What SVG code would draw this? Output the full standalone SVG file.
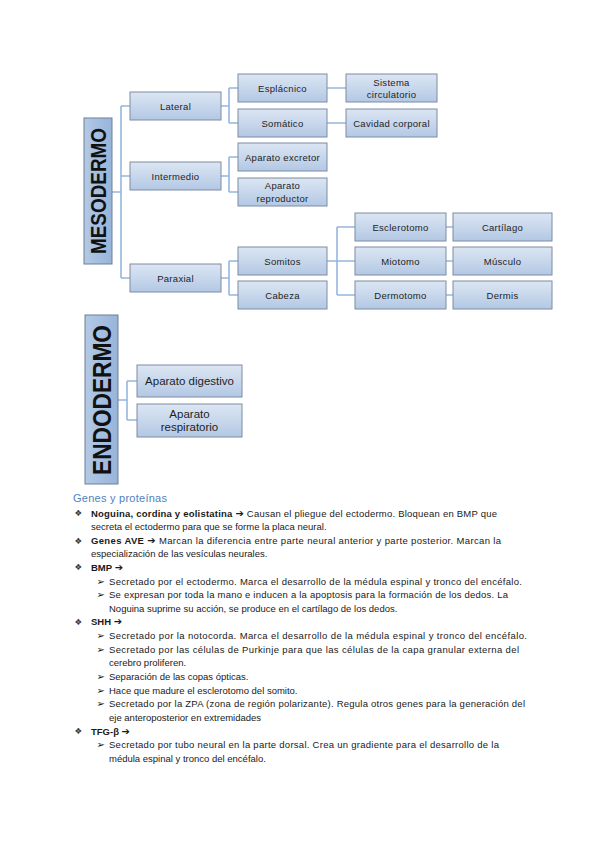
<svg xmlns="http://www.w3.org/2000/svg" width="599" height="848" viewBox="0 0 599 848">
<defs>
<linearGradient id="gBox" x1="0" y1="0" x2="0" y2="1">
<stop offset="0" stop-color="#dce6f3"/>
<stop offset="1" stop-color="#b3c8e4"/>
</linearGradient>
<linearGradient id="gHead" x1="0" y1="0" x2="1" y2="0">
<stop offset="0" stop-color="#b3c9e6"/>
<stop offset="1" stop-color="#97b4da"/>
</linearGradient>
<style>
.box{fill:url(#gBox);stroke:#7d8ca2;stroke-width:1}
.head{fill:url(#gHead);stroke:#6f7f95;stroke-width:1}
.bt{font-family:"Liberation Sans",Arial,sans-serif;font-size:9.5px;fill:#1e1e1e;text-anchor:middle;letter-spacing:0.3px}
.bt2{font-family:"Liberation Sans",Arial,sans-serif;font-size:11.5px;fill:#1e1e1e;text-anchor:middle}
.ht{font-family:"Liberation Sans",Arial,sans-serif;font-weight:bold;fill:#111;text-anchor:middle}
.con{fill:none;stroke:#95b6de;stroke-width:1.6}
.tx{font-family:"Liberation Sans",Arial,sans-serif;font-size:9.5px;fill:#1a1a1a}
.b{font-weight:bold}
.ar{font-family:"DejaVu Sans",sans-serif;font-weight:bold;font-size:10px}
.sym{font-family:"DejaVu Sans",sans-serif;font-size:8.5px;fill:#333}
.sym2{font-family:"DejaVu Sans",sans-serif;font-size:10px;fill:#111}
.title{font-family:"Liberation Sans",Arial,sans-serif;font-size:11px;fill:#4f81bd}
</style>
</defs>

<g id="connectors">
<path class="con" d="M112,192 H121 M121,106 V278 M121,106 H130 M121,176 H130 M121,278 H130"/>
<path class="con" d="M221,106 H229 M229,88 V123 M229,88 H238 M229,123 H238"/>
<path class="con" d="M221,176 H229 M229,157 V192 M229,157 H238 M229,192 H238"/>
<path class="con" d="M221,278 H229 M229,261 V295 M229,261 H238 M229,295 H238"/>
<path class="con" d="M327,88 H346 M327,123 H346"/>
<path class="con" d="M327,261 H337 M337,227 V295 M337,227 H355 M337,261 H355 M337,295 H355"/>
<path class="con" d="M446,227 H453 M446,261 H453 M446,295 H453"/>
<path class="con" d="M118,400 H127 M127,381 V420 M127,381 H137 M127,420 H137"/>
</g>

<g id="mesodermo"><rect class="head" x="84" y="118" width="28" height="146"/><text class="ht" font-size="22" transform="translate(98,191) rotate(-90)" x="0" y="8" textLength="126" lengthAdjust="spacingAndGlyphs">MESODERMO</text></g>
<g id="lateral"><rect class="box" x="130" y="92" width="91" height="28"/><text class="bt" x="175.5" y="109.5">Lateral</text></g>
<g id="intermedio"><rect class="box" x="130" y="162" width="91" height="28"/><text class="bt" x="175.5" y="179.5">Intermedio</text></g>
<g id="paraxial"><rect class="box" x="130" y="264" width="91" height="28"/><text class="bt" x="175.5" y="281.5">Paraxial</text></g>
<g id="esplacnico"><rect class="box" x="238" y="74" width="89" height="28"/><text class="bt" x="282.5" y="91.5">Esplácnico</text></g>
<g id="somatico"><rect class="box" x="238" y="109" width="89" height="28"/><text class="bt" x="282.5" y="126.5">Somático</text></g>
<g id="excretor"><rect class="box" x="238" y="143" width="89" height="28"/><text class="bt" x="282.5" y="160.5">Aparato excretor</text></g>
<g id="reproductor"><rect class="box" x="238" y="178" width="89" height="28"/><text class="bt" x="282.5" y="189">Aparato</text><text class="bt" x="282.5" y="201.5">reproductor</text></g>
<g id="somitos"><rect class="box" x="238" y="247" width="89" height="28"/><text class="bt" x="282.5" y="264.5">Somitos</text></g>
<g id="cabeza"><rect class="box" x="238" y="281" width="89" height="28"/><text class="bt" x="282.5" y="298.5">Cabeza</text></g>
<g id="circulatorio"><rect class="box" x="346" y="74" width="91" height="28"/><text class="bt" x="391.5" y="85.5">Sistema</text><text class="bt" x="391.5" y="98">circulatorio</text></g>
<g id="cavidad"><rect class="box" x="346" y="109" width="91" height="28"/><text class="bt" x="391.5" y="126.5">Cavidad corporal</text></g>
<g id="esclerotomo"><rect class="box" x="355" y="213" width="91" height="28"/><text class="bt" x="400.5" y="230.5">Esclerotomo</text></g>
<g id="miotomo"><rect class="box" x="355" y="247" width="91" height="28"/><text class="bt" x="400.5" y="264.5">Miotomo</text></g>
<g id="dermotomo"><rect class="box" x="355" y="281" width="91" height="28"/><text class="bt" x="400.5" y="298.5">Dermotomo</text></g>
<g id="cartilago"><rect class="box" x="453" y="213" width="99" height="28"/><text class="bt" x="502.5" y="230.5">Cartílago</text></g>
<g id="musculo"><rect class="box" x="453" y="247" width="99" height="28"/><text class="bt" x="502.5" y="264.5">Músculo</text></g>
<g id="dermis"><rect class="box" x="453" y="281" width="99" height="28"/><text class="bt" x="502.5" y="298.5">Dermis</text></g>

<g id="endodermo"><rect class="head" x="85" y="315" width="33" height="169"/><text class="ht" font-size="25" transform="translate(101.5,400) rotate(-90)" x="0" y="9" textLength="150" lengthAdjust="spacingAndGlyphs">ENDODERMO</text></g>
<g id="digestivo"><rect class="box" x="137" y="365" width="105" height="32"/><text class="bt2" x="189.5" y="385">Aparato digestivo</text></g>
<g id="respiratorio"><rect class="box" x="137" y="404" width="105" height="33"/><text class="bt2" x="189.5" y="418">Aparato</text><text class="bt2" x="189.5" y="431">respiratorio</text></g>

<g id="text">
<text class="title" x="73" y="502" textLength="94" lengthAdjust="spacing">Genes y proteínas</text>
<text class="sym" x="74.5" y="516">❖</text>
<text class="tx" x="91" y="516.5" textLength="406" lengthAdjust="spacing"><tspan class="b">Noguina, cordina y eolistatina</tspan> <tspan class="ar">➔</tspan> Causan el pliegue del ectodermo. Bloquean en BMP que</text>
<text class="tx" x="91" y="530">secreta el ectodermo para que se forme la placa neural.</text>
<text class="sym" x="74.5" y="543.5">❖</text>
<text class="tx" x="91" y="544" textLength="410" lengthAdjust="spacing"><tspan class="b">Genes AVE</tspan> <tspan class="ar">➔</tspan> Marcan la diferencia entre parte neural anterior y parte posterior. Marcan la</text>
<text class="tx" x="91" y="557">especialización de las vesículas neurales.</text>
<text class="sym" x="74.5" y="570">❖</text>
<text class="tx" x="91" y="570.5"><tspan class="b">BMP</tspan> <tspan class="ar">➔</tspan></text>
<text class="sym2" x="96.5" y="584.5">➢</text>
<text class="tx" x="109" y="584.5" textLength="413" lengthAdjust="spacing">Secretado por el ectodermo. Marca el desarrollo de la médula espinal y tronco del encéfalo.</text>
<text class="sym2" x="96.5" y="598">➢</text>
<text class="tx" x="109" y="598" textLength="399" lengthAdjust="spacing">Se expresan por toda la mano e inducen a la apoptosis para la formación de los dedos. La</text>
<text class="tx" x="109" y="611.5">Noguina suprime su acción, se produce en el cartílago de los dedos.</text>
<text class="sym" x="74.5" y="624.5">❖</text>
<text class="tx" x="91" y="625"><tspan class="b">SHH</tspan> <tspan class="ar">➔</tspan></text>
<text class="sym2" x="96.5" y="639">➢</text>
<text class="tx" x="109" y="639" textLength="418" lengthAdjust="spacing">Secretado por la notocorda. Marca el desarrollo de la médula espinal y tronco del encéfalo.</text>
<text class="sym2" x="96.5" y="652.5">➢</text>
<text class="tx" x="109" y="652.5" textLength="410" lengthAdjust="spacing">Secretado por las células de Purkinje para que las células de la capa granular externa del</text>
<text class="tx" x="109" y="666">cerebro proliferen.</text>
<text class="sym2" x="96.5" y="679.5">➢</text>
<text class="tx" x="109" y="679.5">Separación de las copas ópticas.</text>
<text class="sym2" x="96.5" y="693.5">➢</text>
<text class="tx" x="109" y="693.5">Hace que madure el esclerotomo del somito.</text>
<text class="sym2" x="96.5" y="707">➢</text>
<text class="tx" x="109" y="707" textLength="416" lengthAdjust="spacing">Secretado por la ZPA (zona de región polarizante). Regula otros genes para la generación del</text>
<text class="tx" x="109" y="720.5">eje anteroposterior en extremidades</text>
<text class="sym" x="74.5" y="734">❖</text>
<text class="tx" x="91" y="734.5"><tspan class="b">TFG-β</tspan> <tspan class="ar">➔</tspan></text>
<text class="sym2" x="96.5" y="748">➢</text>
<text class="tx" x="109" y="748" textLength="390" lengthAdjust="spacing">Secretado por tubo neural en la parte dorsal. Crea un gradiente para el desarrollo de la</text>
<text class="tx" x="109" y="761.5">médula espinal y tronco del encéfalo.</text>
</g>
</svg>
